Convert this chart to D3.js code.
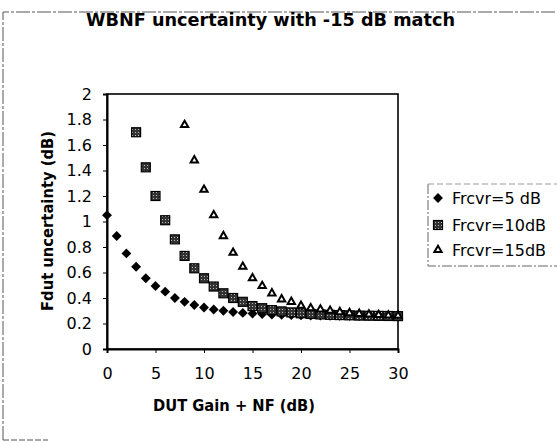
<!DOCTYPE html>
<html><head><meta charset="utf-8">
<script src="https://cdn.jsdelivr.net/npm/d3@7"></script>
<style>body{margin:0;background:#fff}svg{display:block}text{font-family:"DejaVu Sans",sans-serif}</style>
</head><body><svg id="c" width="557" height="441"></svg>
<script>
const title = "WBNF uncertainty with -15 dB match";
const xTitle = "DUT Gain + NF (dB)";
const yTitle = "Fdut uncertainty (dB)";
const xTicks = [0,5,10,15,20,25,30];
const yTicks = [0,0.2,0.4,0.6,0.8,1,1.2,1.4,1.6,1.8,2];
const seriesNames = ["Frcvr=5 dB","Frcvr=10dB","Frcvr=15dB"];
const x5 = d3.range(0,31);
const y5 = [1.05,0.886,0.75,0.645,0.555,0.494,0.45,0.40,0.37,0.345,0.325,0.31,0.30,0.29,0.283,0.278,0.274,0.271,0.268,0.266,0.264,0.263,0.262,0.261,0.26,0.26,0.259,0.259,0.258,0.258,0.258];
const x10 = d3.range(3,31);
const y10 = [1.70,1.425,1.20,1.01,0.86,0.73,0.633,0.555,0.49,0.437,0.40,0.37,0.337,0.32,0.305,0.295,0.287,0.28,0.275,0.271,0.268,0.266,0.264,0.262,0.261,0.26,0.259,0.258];
const x15 = d3.range(8,31);
const y15 = [1.757,1.48,1.25,1.05,0.886,0.755,0.645,0.555,0.494,0.437,0.39,0.37,0.34,0.32,0.31,0.30,0.29,0.282,0.276,0.271,0.267,0.264,0.262];

const svg = d3.select("#c");
const L=107, R=398, T=94, B=349;
const x = d3.scaleLinear().domain([0,30]).range([L,R]);
const y = d3.scaleLinear().domain([0,2]).range([B,T]);
const boldFont = "Liberation Sans, Arial, sans-serif";

// outer dashed frame
svg.append("path").attr("d","M3,440 V12 H557").attr("fill","none").attr("stroke","#555").attr("stroke-width",1).attr("stroke-dasharray","14,2,3,2");
svg.append("path").attr("d","M3,440 H48").attr("fill","none").attr("stroke","#555").attr("stroke-dasharray","6,2");

svg.append("text").attr("x",86).attr("y",26).attr("font-family",boldFont).attr("font-size",17).attr("font-weight","bold")
  .attr("textLength",369).attr("lengthAdjust","spacingAndGlyphs").text(title);

// plot border
svg.append("rect").attr("x",L).attr("y",T).attr("width",R-L).attr("height",B-T).attr("fill","none").attr("stroke","#000").attr("stroke-width",1.6);

const xa = svg.append("g").attr("transform",`translate(0,${B})`).call(d3.axisBottom(x).tickValues(xTicks).tickSize(4).tickPadding(15).tickFormat(d3.format("d")));
const ya = svg.append("g").attr("transform",`translate(${L},0)`).call(d3.axisLeft(y).tickValues(yTicks).tickSize(4).tickPadding(11).tickFormat(d=>d===0||d===1||d===2?String(d):d3.format(".1f")(d)));
[xa,ya].forEach(a=>{a.select(".domain").attr("stroke-width",2);a.selectAll("text").attr("font-size",16).attr("font-family","DejaVu Sans").attr("fill","#000");});

svg.append("text").attr("x",153).attr("y",411).attr("font-family",boldFont).attr("font-size",15).attr("font-weight","bold")
  .attr("textLength",162).attr("lengthAdjust","spacingAndGlyphs").text(xTitle);
svg.append("text").attr("transform","translate(53,221) rotate(-90)").attr("text-anchor","middle").attr("font-family",boldFont).attr("font-size",15).attr("font-weight","bold")
  .attr("textLength",180).attr("lengthAdjust","spacingAndGlyphs").text(yTitle);

const defs = svg.append("defs");
const pat = defs.append("pattern").attr("id","hatch").attr("width",3).attr("height",3).attr("patternUnits","userSpaceOnUse");
pat.append("rect").attr("width",3).attr("height",3).attr("fill","#333");
pat.append("rect").attr("width",1).attr("height",1).attr("fill","#bbb");

const tri = d3.symbol().type(d3.symbolTriangle2).size(38);
function drawDiamond(g,cx,cy){g.append("path").attr("d",d3.symbol().type(d3.symbolSquare).size(49)()).attr("transform",`translate(${cx},${cy}) rotate(45)`).attr("fill","#000");}
function drawSquare(g,cx,cy){g.append("rect").attr("x",cx-4.5).attr("y",cy-4.5).attr("width",9).attr("height",9).attr("fill","url(#hatch)").attr("stroke","#000").attr("stroke-width",1.2);}
function drawTri(g,cx,cy){g.append("path").attr("d",tri()).attr("transform",`translate(${cx},${cy})`).attr("fill","#fff").attr("stroke","#000").attr("stroke-width",2);}

const gm = svg.append("g");
x5.forEach((v,i)=>drawDiamond(gm,x(v),y(y5[i])));
x10.forEach((v,i)=>drawSquare(gm,x(v),y(y10[i])));
x15.forEach((v,i)=>drawTri(gm,x(v),y(y15[i])));

// legend
const lg = svg.append("g");
lg.append("path").attr("d","M428,184 V266 H557").attr("fill","none").attr("stroke","#666").attr("stroke-dasharray","10,2,2,2");
lg.append("path").attr("d","M428,184 H557").attr("fill","none").attr("stroke","#999").attr("stroke-dasharray","6,3");
const rows=[198,225,250];
const drawers=[drawDiamond,drawSquare,drawTri];
seriesNames.forEach((n,i)=>{drawers[i](lg,438,rows[i]);lg.append("text").attr("x",452).attr("y",rows[i]+6).attr("font-size",16).attr("fill","#000").text(n);});
</script></body></html>
